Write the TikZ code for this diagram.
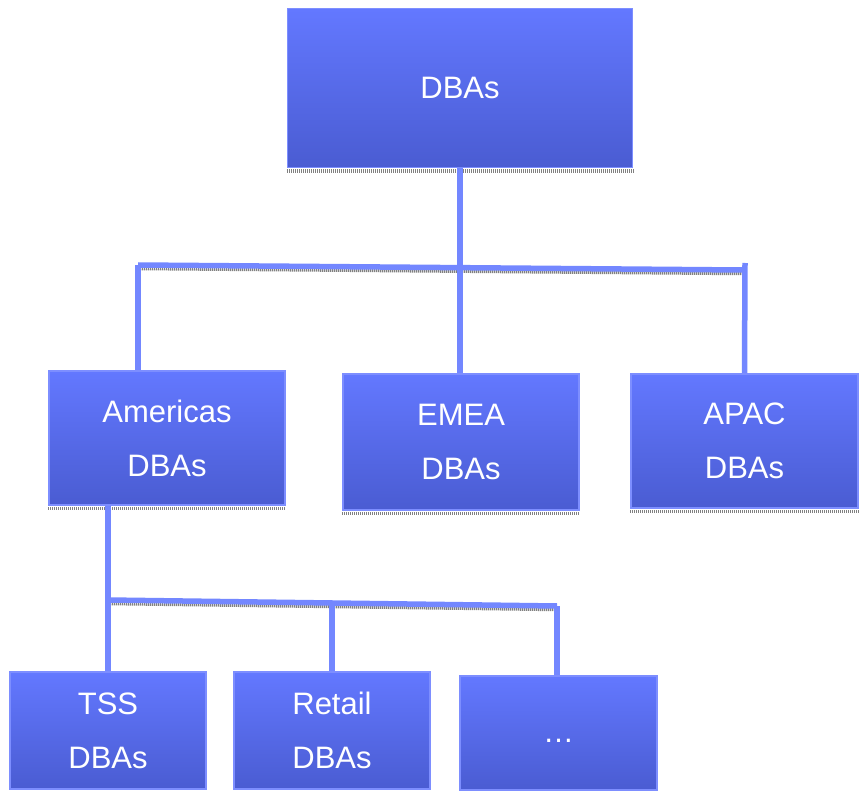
\documentclass[tikz,border=0pt]{standalone}
\usepackage{fontspec}
\setmainfont{Liberation Sans}
\definecolor{boxtop}{RGB}{99,120,255}
\definecolor{boxbot}{RGB}{74,92,210}
\definecolor{boxedge}{RGB}{125,142,255}
\definecolor{conn}{RGB}{115,135,255}
\tikzset{
  orgbox/.style={draw=boxedge, line width=1.5pt, top color=boxtop, bottom color=boxbot,
    text=white, inner sep=0pt, align=center, font=\fontsize{31}{54}\selectfont},
  shadowline/.style={line width=3.5pt, black!50, dash pattern=on 1.2pt off 0.8pt},
  connline/.style={line width=5.5pt, conn}
}
\begin{document}
\begin{tikzpicture}[x=1pt,y=-1pt]
\useasboundingbox (0,0) rectangle (859,791);
\coordinate (hL) at (138,265);
\coordinate (hM) at (460,267.5);
\coordinate (hR) at (742,270);
\coordinate (rtop) at (745,263);
\coordinate (bL) at (108,600);
\coordinate (bM) at (332,603.5);
\coordinate (bR) at (557,606);

\node[orgbox, minimum width=345pt, minimum height=159pt] (top) at (460,88) {DBAs};
\node[orgbox, minimum width=236pt, minimum height=134pt] (amer) at (167,438) {Americas\\DBAs};
\node[orgbox, minimum width=236pt, minimum height=136pt] (emea) at (461,442) {EMEA\\DBAs};
\node[orgbox, minimum width=227pt, minimum height=134pt] (apac) at (744.5,441) {APAC\\DBAs};
\node[orgbox, minimum width=196pt, minimum height=117pt] (tss) at (108,730.5) {TSS\\DBAs};
\node[orgbox, minimum width=196pt, minimum height=117pt] (retail) at (332,730.5) {Retail\\DBAs};
\node[orgbox, minimum width=197pt, minimum height=114pt] (dots) at (558.5,733) {\smash{\raisebox{-9pt}{\dots}}};

% shadows
\foreach \n in {top,amer,emea,apac,tss,retail,dots}{
  \draw[shadowline] ([yshift=-2.8pt]\n.south west) -- ([yshift=-2.8pt]\n.south east);
}
\draw[shadowline] ([yshift=-3.5pt]hL) -- ([yshift=-3.5pt]hR);
\draw[shadowline] ([yshift=-3.5pt]bL) -- ([yshift=-3.5pt]bR);

% connectors
\draw[connline] (top.south) -- (hM);
\draw[connline] (hL) -- (hR);
\draw[connline] (hL) -- (hL |- amer.north);
\draw[connline] (hM) -- (hM |- emea.north);
\draw[connline] (rtop) -- (apac.north);
\draw[connline] (bL |- amer.south) -- (bL);
\draw[connline] (bL) -- (bR);
\draw[connline] (bL) -- (tss.north);
\draw[connline] (bM) -- (retail.north);
\draw[connline] (bR) -- (bR |- dots.north);
\end{tikzpicture}
\end{document}
